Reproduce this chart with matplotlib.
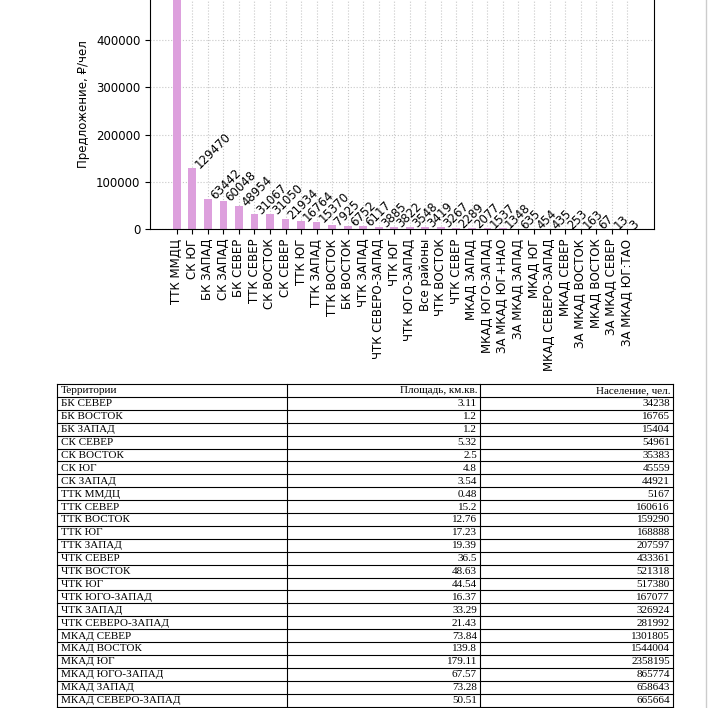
import matplotlib.pyplot as plt
from matplotlib.lines import Line2D

## Chart data (first value is cut off in the picture, estimated)
districts = ['ТТК ММДЦ', 'СК ЮГ', 'БК ЗАПАД', 'СК ЗАПАД', 'БК СЕВЕР', 'ТТК СЕВЕР',
             'СК ВОСТОК', 'СК СЕВЕР', 'ТТК ЮГ', 'ТТК ЗАПАД', 'ТТК ВОСТОК', 'БК ВОСТОК',
             'ЧТК ЗАПАД', 'ЧТК СЕВЕРО-ЗАПАД', 'ЧТК ЮГ', 'ЧТК ЮГО-ЗАПАД', 'Все районы',
             'ЧТК ВОСТОК', 'ЧТК СЕВЕР', 'МКАД ЗАПАД', 'МКАД ЮГО-ЗАПАД', 'ЗА МКАД ЮГ+НАО',
             'ЗА МКАД ЗАПАД', 'МКАД ЮГ', 'МКАД СЕВЕРО-ЗАПАД', 'МКАД СЕВЕР',
             'ЗА МКАД ВОСТОК', 'МКАД ВОСТОК', 'ЗА МКАД СЕВЕР', 'ЗА МКАД ЮГ:ТАО']
supply = [800000, 129470, 63442, 60048, 48954, 31067, 31050, 21934, 16764, 15370,
          7925, 6752, 6117, 3885, 3822, 3548, 3419, 3267, 2289, 2077, 1537, 1348,
          635, 454, 435, 253, 163, 67, 13, 3]
yticks = [0, 100000, 200000, 300000, 400000]

## Table data
territories = ['БК СЕВЕР', 'БК ВОСТОК', 'БК ЗАПАД', 'СК СЕВЕР', 'СК ВОСТОК', 'СК ЮГ',
               'СК ЗАПАД', 'ТТК ММДЦ', 'ТТК СЕВЕР', 'ТТК ВОСТОК', 'ТТК ЮГ', 'ТТК ЗАПАД',
               'ЧТК СЕВЕР', 'ЧТК ВОСТОК', 'ЧТК ЮГ', 'ЧТК ЮГО-ЗАПАД', 'ЧТК ЗАПАД',
               'ЧТК СЕВЕРО-ЗАПАД', 'МКАД СЕВЕР', 'МКАД ВОСТОК', 'МКАД ЮГ',
               'МКАД ЮГО-ЗАПАД', 'МКАД ЗАПАД', 'МКАД СЕВЕРО-ЗАПАД']
area = ['3.11', '1.2', '1.2', '5.32', '2.5', '4.8', '3.54', '0.48', '15.2', '12.76',
        '17.23', '19.39', '36.5', '48.63', '44.54', '16.37', '33.29', '21.43',
        '73.84', '139.8', '179.11', '67.57', '73.28', '50.51']
population = ['34238', '16765', '15404', '54961', '35383', '45559', '44921', '5167',
              '160616', '159290', '168888', '207597', '433361', '521318', '517380',
              '167077', '326924', '281992', '1301805', '1544004', '2358195',
              '865774', '658643', '665664']
headers = ['Территории', 'Площадь, км.кв.', 'Население, чел.']

W = H = 708
fig = plt.figure(figsize=(7.08, 7.08), dpi=100)

## Bar chart (top of the axes runs off the picture)
y0 = (H - 229) / H
per_unit = ((H - 40) / H - y0) / 400000
ymax = max(supply) * 1.05
ax_h = ymax * per_unit
ax = fig.add_axes([150 / W, y0, (654 - 150) / W, ax_h])
x = list(range(len(districts)))
ax.bar(x, supply, width=0.5, color='plum')
for i, v in enumerate(supply):
    ax.text(i, v, str(v), rotation=45, fontsize=8.5)
ax.set_xticks(x)
ax.set_xticklabels(districts, rotation=90, fontsize=8.5)
ax.set_yticks(yticks)
ax.tick_params(axis='y', labelsize=8.5)
ax.set_ylabel('Предложение, ₽/чел', fontsize=8.5)
ax.yaxis.set_label_coords(-0.12, 125 / (ax_h * H))
ax.set_ylim(0, ymax)
ax.grid(True, linestyle=':', color='#c8c8c8', linewidth=0.8)
ax.set_axisbelow(True)

## Table drawn by hand in pixel coordinates
cols = [57, 287, 480, 673]
top = 384
rh = 12.9
nrows = len(territories) + 1
serif = 'Liberation Serif'


def fy(py):
    return (H - py) / H


for r in range(nrows + 1):
    yy = fy(top + r * rh)
    fig.add_artist(Line2D([cols[0] / W, cols[-1] / W], [yy, yy], color='black', lw=0.8))
for c in cols:
    fig.add_artist(Line2D([c / W, c / W], [fy(top), fy(top + nrows * rh)], color='black', lw=0.8))

rows = [headers] + [[t, a, p] for t, a, p in zip(territories, area, population)]
for r, row in enumerate(rows):
    yy = fy(top + r * rh + rh / 2 + 0.5)
    fig.text((cols[0] + 4) / W, yy, row[0], ha='left', va='center', fontsize=8, family=serif)
    fig.text((cols[2] - 3) / W, yy, row[1], ha='right', va='center', fontsize=8, family=serif)
    fig.text((cols[3] - 3) / W, yy, row[2], ha='right', va='center', fontsize=8, family=serif)

fig.add_artist(Line2D([706 / W, 706 / W], [0, 1], color='#cccccc', lw=1))

plt.savefig('out.png', dpi=100)
